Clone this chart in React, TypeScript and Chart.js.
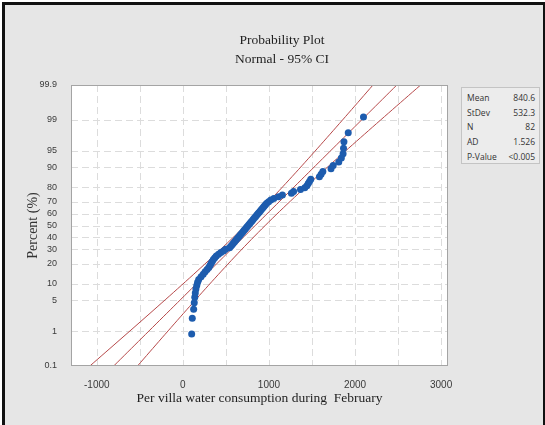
import { useEffect, useRef } from 'react';
import { Chart, registerables } from 'chart.js';

Chart.register(...registerables);

// Per-villa February water consumption, sorted ascending (82 villas)
const consumption = [
  102, 109, 125, 132, 138, 144, 151, 161, 171, 184,
  211, 236, 258, 281, 301, 316, 328, 341, 354, 371,
  388, 414, 441, 471, 496, 542, 557, 572, 586, 601,
  615, 629, 643, 657, 670, 684, 698, 711, 725, 738,
  751, 765, 778, 791, 805, 818, 832, 846, 859, 873,
  887, 901, 915, 930, 944, 959, 974, 996, 1021, 1056,
  1111, 1156, 1261, 1286, 1366, 1416, 1441, 1456, 1471, 1486,
  1586, 1606, 1626, 1721, 1746, 1811, 1841, 1861, 1866, 1871,
  1921, 2098,
];

// Fitted normal parameters shown in the summary box
const MEAN = 840.6;
const STDEV = 532.3;
const N = 82;
const statLabels = ['Mean', 'StDev', 'N', 'AD', 'P-Value'];
const statValues = ['840.6', '532.3', '82', '1.526', '<0.005'];

// Axis ticks
const percentTicks = [0.1, 1, 5, 10, 20, 30, 40, 50, 60, 70, 80, 90, 95, 99, 99.9];
const xLabelTicks = [-1000, 0, 1000, 2000, 3000];
const xGridLines = [-1000, -500, 0, 500, 1000, 1500, 2000, 2500, 3000];
const X_MIN = -1300;
const X_MAX = 3080;

// Inverse standard normal CDF (Acklam's rational approximation)
function normInv(p: number): number {
  const a = [-39.69683028665376, 220.9460984245205, -275.9285104469687, 138.357751867269, -30.66479806614716, 2.506628277459239];
  const b = [-54.47609879822406, 161.5858368580409, -155.6989798598866, 66.80131188771972, -13.28068155288572];
  const c = [-0.007784894002430293, -0.3223964580411365, -2.400758277161838, -2.549732539343734, 4.374664141464968, 2.938163982698783];
  const d = [0.007784695709041462, 0.3224671290700398, 2.445134137142996, 3.754408661907416];
  const pl = 0.02425;
  if (p < pl) {
    const q = Math.sqrt(-2 * Math.log(p));
    return (((((c[0] * q + c[1]) * q + c[2]) * q + c[3]) * q + c[4]) * q + c[5]) /
      ((((d[0] * q + d[1]) * q + d[2]) * q + d[3]) * q + 1);
  }
  if (p <= 1 - pl) {
    const q = p - 0.5;
    const r = q * q;
    return (((((a[0] * r + a[1]) * r + a[2]) * r + a[3]) * r + a[4]) * r + a[5]) * q /
      (((((b[0] * r + b[1]) * r + b[2]) * r + b[3]) * r + b[4]) * r + 1);
  }
  const q = Math.sqrt(-2 * Math.log(1 - p));
  return -(((((c[0] * q + c[1]) * q + c[2]) * q + c[3]) * q + c[4]) * q + c[5]) /
    ((((d[0] * q + d[1]) * q + d[2]) * q + d[3]) * q + 1);
}

const Z_MIN = normInv(0.001);
const Z_MAX = normInv(0.999);

const SERIF = '"Liberation Serif", "Times New Roman", serif';
const SANS = '"Liberation Sans", Arial, sans-serif';
const LINE_RED = '#b7494a';
const DOT_BLUE = '#1d5cae';

// Dashed grid, white plotting area and frame
const probGridPlugin = {
  id: 'probGrid',
  beforeDraw(chart: any) {
    const { ctx, chartArea: a } = chart;
    ctx.save();
    ctx.fillStyle = '#ffffff';
    ctx.fillRect(a.left, a.top, a.right - a.left, a.bottom - a.top);
    ctx.restore();
  },
  beforeDatasetsDraw(chart: any) {
    const { ctx, chartArea: a, scales } = chart;
    const x = scales.x;
    const y = scales.y;
    ctx.save();
    ctx.strokeStyle = '#dcdcdc';
    ctx.lineWidth = 1;
    ctx.setLineDash([7, 4]);
    xGridLines.forEach((v) => {
      const px = Math.round(x.getPixelForValue(v)) + 0.5;
      if (px <= a.left + 1 || px >= a.right - 1) return;
      ctx.beginPath();
      ctx.moveTo(px, a.top);
      ctx.lineTo(px, a.bottom);
      ctx.stroke();
    });
    percentTicks.forEach((p) => {
      const py = Math.round(y.getPixelForValue(normInv(p / 100))) + 0.5;
      if (py <= a.top + 1 || py >= a.bottom - 1) return;
      ctx.beginPath();
      ctx.moveTo(a.left, py);
      ctx.lineTo(a.right, py);
      ctx.stroke();
    });
    ctx.restore();
  },
  afterDatasetsDraw(chart: any) {
    const { ctx, chartArea: a } = chart;
    ctx.save();
    ctx.strokeStyle = '#a4a4a4';
    ctx.lineWidth = 1;
    ctx.strokeRect(Math.round(a.left) + 0.5, Math.round(a.top) + 0.5,
      Math.round(a.right - a.left) - 1, Math.round(a.bottom - a.top) - 1);
    ctx.restore();
  },
};

function ProbabilityPlot() {
  const canvasRef = useRef<HTMLCanvasElement | null>(null);

  useEffect(() => {
    const canvas = canvasRef.current;
    if (!canvas) return;

    const points = consumption.map((v, i) => ({
      x: v,
      y: normInv((i + 1 - 0.3) / (N + 0.4)),
    }));

    // Fitted line and 95% confidence band for the percentiles
    const steps = 80;
    const fit: { x: number; y: number }[] = [];
    const lower: { x: number; y: number }[] = [];
    const upper: { x: number; y: number }[] = [];
    for (let k = 0; k <= steps; k++) {
      const z = Z_MIN + ((Z_MAX - Z_MIN) * k) / steps;
      const center = MEAN + z * STDEV;
      const half = 1.959964 * STDEV * Math.sqrt(1 / N + (z * z) / (2 * N));
      fit.push({ x: center, y: z });
      lower.push({ x: center - half, y: z });
      upper.push({ x: center + half, y: z });
    }

    const lineStyle = {
      showLine: true,
      borderColor: LINE_RED,
      borderWidth: 1,
      pointRadius: 0,
      fill: false,
      tension: 0,
      order: 1,
    };

    const chart = new Chart(canvas, {
      type: 'scatter',
      data: {
        datasets: [
          {
            label: 'Data',
            data: points,
            backgroundColor: DOT_BLUE,
            borderColor: DOT_BLUE,
            borderWidth: 0,
            pointRadius: 3.5,
            order: 0,
          },
          { label: 'Fit', data: fit, ...lineStyle },
          { label: 'Lower', data: lower, ...lineStyle },
          { label: 'Upper', data: upper, ...lineStyle },
        ],
      },
      options: {
        animation: false,
        responsive: false,
        maintainAspectRatio: false,
        layout: { padding: { left: 25, right: 97, top: 85, bottom: 18 } },
        plugins: {
          legend: { display: false },
          tooltip: { enabled: false },
          title: { display: false },
        },
        scales: {
          x: {
            type: 'linear',
            min: X_MIN,
            max: X_MAX,
            afterBuildTicks: (scale: any) => {
              scale.ticks = xLabelTicks.map((v) => ({ value: v }));
            },
            afterFit: (scale: any) => {
              scale.height = 41;
            },
            grid: { display: false },
            border: { display: false },
            ticks: {
              autoSkip: false,
              maxRotation: 0,
              padding: 5,
              color: '#3a3a3a',
              font: { family: SANS, size: 10 },
              callback: (v: any) => String(v),
            },
            title: {
              display: true,
              text: 'Per villa water consumption during  February',
              color: '#1e1e1e',
              font: { family: SERIF, size: 13.5 },
              padding: { top: 0, bottom: 0 },
            },
          },
          y: {
            type: 'linear',
            min: Z_MIN,
            max: Z_MAX,
            afterBuildTicks: (scale: any) => {
              scale.ticks = percentTicks.map((p) => ({ value: normInv(p / 100) }));
            },
            afterFit: (scale: any) => {
              scale.width = 46;
            },
            grid: { display: false },
            border: { display: false },
            ticks: {
              autoSkip: false,
              padding: 6,
              color: '#3a3a3a',
              font: { family: SANS, size: 9 },
              callback: (_v: any, idx: number) => String(percentTicks[idx]),
            },
            title: {
              display: true,
              text: 'Percent (%)',
              color: '#333333',
              font: { family: SERIF, size: 14 },
              padding: { top: 0, bottom: 0 },
            },
          },
        },
      },
      plugins: [probGridPlugin],
    } as any);

    return () => chart.destroy();
  }, []);

  return <canvas ref={canvasRef} width={545} height={425} style={{ position: 'absolute', left: 0, top: 0 }} />;
}

export default function App() {
  return (
    <div
      style={{
        position: 'fixed',
        left: 0,
        top: 0,
        width: 545,
        height: 425,
        background: '#ffffff',
        overflow: 'hidden',
      }}
    >
      <div
        style={{
          position: 'absolute',
          left: 2,
          top: 2,
          width: 538,
          height: 420,
          background: '#e6e6e6',
          borderTop: '3px solid #111',
          borderLeft: '3px solid #111',
          borderRight: '3px solid #111',
          borderBottom: '1px solid #cfcfcf',
        }}
      />
      <ProbabilityPlot />
      <div
        style={{
          position: 'absolute',
          left: 182,
          top: 30,
          width: 200,
          textAlign: 'center',
          fontFamily: SERIF,
          fontSize: 13.5,
          lineHeight: '19px',
          color: '#1e1e1e',
        }}
      >
        <div>Probability Plot</div>
        <div>Normal - 95% CI</div>
      </div>
      <div
        style={{
          position: 'absolute',
          left: 461,
          top: 87,
          width: 79,
          height: 77,
          border: '1px solid #c4c4c4',
          background: '#ececec',
          boxSizing: 'border-box',
          paddingTop: 3,
          fontFamily: '"Open Sans", "Noto Sans", sans-serif',
          fontSize: 8.5,
          color: '#333',
        }}
      >
        {statLabels.map((label, i) => (
          <div
            key={label}
            style={{
              display: 'flex',
              justifyContent: 'space-between',
              height: 14.7,
              lineHeight: '14.7px',
              paddingLeft: 5,
              paddingRight: 4,
            }}
          >
            <span>{label}</span>
            <span>{statValues[i]}</span>
          </div>
        ))}
      </div>
    </div>
  );
}
